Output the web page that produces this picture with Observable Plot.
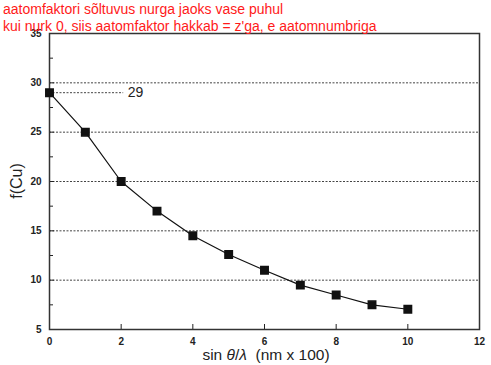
<!DOCTYPE html>
<html><head><meta charset="utf-8">
<script src="https://cdn.jsdelivr.net/npm/d3@7"></script>
<script src="https://cdn.jsdelivr.net/npm/@observablehq/plot@0.6"></script>
<style>
body{margin:0;background:#fff;}
#wrap{position:relative;width:491px;height:365px;}
#title{position:absolute;left:3px;top:1px;font-family:"Liberation Sans",Arial,sans-serif;font-size:14px;line-height:17px;color:#ff1a1a;z-index:2;}
</style></head><body>
<div id="wrap"><div id="title">aatomfaktori sõltuvus nurga jaoks vase puhul<br>kui nurk 0, siis aatomfaktor hakkab = z'ga, e aatomnumbriga</div><div id="chart"></div></div>
<script>
const sinThetaLambda = [0,1,2,3,4,5,6,7,8,9,10];
const fCu = [29,25,20,17,14.5,12.6,11,9.5,8.5,7.5,7.05];
const xTicks = [0,2,4,6,8,10,12];
const yTicks = [5,10,15,20,25,30,35];
const yMinor = [7.5,12.5,17.5,22.5,27.5,32.5];
const gridY = [10,15,20,25,30];
const annotation = [{x1:0,x2:2.07,y:29,label:"29",lx:2.4}];

const data = sinThetaLambda.map((x,i)=>({x,y:fCu[i]}));
const ink = "#222";
const chart = Plot.plot({
  width:491, height:365,
  marginLeft:49, marginRight:12, marginTop:33, marginBottom:36,
  style:{fontFamily:"'Liberation Sans',Arial,sans-serif",color:ink,background:"#fff"},
  x:{domain:[0,12]},
  y:{domain:[5,35]},
  marks:[
    Plot.ruleY(gridY,{stroke:"#444",strokeWidth:1,strokeDasharray:"2,1.5"}),
    Plot.ruleY(annotation,{y:"y",x1:"x1",x2:"x2",stroke:"#444",strokeWidth:1,strokeDasharray:"2,1.5"}),
    Plot.text(annotation,{x:"lx",y:"y",text:"label",fontSize:14,fill:ink}),
    Plot.axisX({ticks:xTicks,tickSize:-5,tickPadding:13,fontSize:10,fontWeight:"bold",stroke:ink,tickFormat:d=>d,label:null}),
    Plot.axisY({ticks:yTicks,tickSize:-5,tickPadding:13,fontSize:10,fontWeight:"bold",stroke:ink,label:null}),
    Plot.axisY({ticks:yMinor,tickSize:-4,text:null,label:null,stroke:ink}),
    Plot.frame({stroke:"#333",strokeWidth:1.5}),
    Plot.line(data,{x:"x",y:"y",stroke:"#111",strokeWidth:1.2}),
    Plot.dot(data,{x:"x",y:"y",symbol:"square",r:4.2,fill:"#111",stroke:"#111"}),
  ]
});
const svg = d3.select(chart);
svg.append("text").attr("transform","translate(22,181) rotate(-90)").attr("text-anchor","middle")
  .attr("font-size",16).attr("fill",ink).text("f(Cu)");
const xl = svg.append("text").attr("x",266).attr("y",360).attr("text-anchor","middle").attr("font-size",15.5).attr("fill",ink);
xl.append("tspan").text("sin ");
xl.append("tspan").attr("font-style","italic").text("θ");
xl.append("tspan").text("/");
xl.append("tspan").attr("font-style","italic").text("λ");
xl.append("tspan").text("  (nm x 100)").attr("xml:space","preserve");
document.getElementById("chart").appendChild(chart);
</script>
</body></html>
